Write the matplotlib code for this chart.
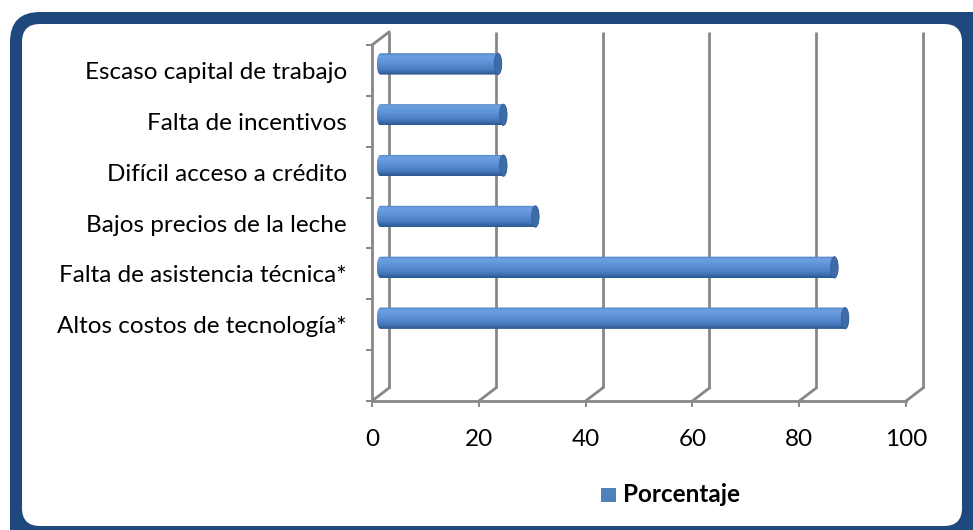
import numpy as np
import matplotlib
matplotlib.use('Agg')
import matplotlib.pyplot as plt
from matplotlib.patches import FancyBboxPatch, Rectangle, Ellipse, PathPatch
from matplotlib.path import Path
from matplotlib.colors import LinearSegmentedColormap

# ---------------- data ----------------
categories = ["Escaso capital de trabajo", "Falta de incentivos", "Difícil acceso a crédito",
              "Bajos precios de la leche", "Falta de asistencia técnica*",
              "Altos costos de tecnología*"]
values = [22, 23, 23, 29, 85, 87]
xticks = [0, 20, 40, 60, 80, 100]
series_name = "Porcentaje"

plt.rcParams['font.family'] = ['Lato', 'DejaVu Sans']

W, H = 973, 530
fig = plt.figure(figsize=(W / 100, H / 100), dpi=100)

# background frame (pixel coordinates)
bg = fig.add_axes([0, 0, 1, 1])
bg.set_xlim(0, W)
bg.set_ylim(H, 0)
bg.axis('off')
bg.add_patch(FancyBboxPatch((10, 12), 1000, 560, boxstyle="round,pad=0,rounding_size=30",
                            fc='#1f497d', ec='none'))
bg.add_patch(FancyBboxPatch((22, 24), 940, 502, boxstyle="round,pad=0,rounding_size=18",
                            fc='white', ec='none'))

# main (front plane) axes
x0_px, x100_px = 372, 906
ytop_px, ybot_px = 45, 401
ax = fig.add_axes([x0_px / W, 1 - ybot_px / H, (x100_px - x0_px) / W, (ybot_px - ytop_px) / H])
ax.patch.set_visible(False)
n = len(categories)
ypos = np.arange(n, 0, -1)  # top category highest, one empty slot at bottom
ymin, ymax = -0.5, n + 0.5
xmin, xmax = xticks[0], xticks[-1]

# depth offsets (pixels -> data units)
ppx = (x100_px - x0_px) / (xmax - xmin)
ppy = (ybot_px - ytop_px) / (ymax - ymin)
dx_back, dy_back = 17 / ppx, 13 / ppy
dx_mid, dy_mid = 8.5 / ppx, 6.5 / ppy

gc = '#878787'
glw = 2.0
# back wall gridlines
for v in xticks:
    ax.plot([v + dx_back, v + dx_back], [ymin + dy_back, ymax + dy_back], color=gc, lw=glw,
            clip_on=False, zorder=1, solid_capstyle='butt')
    # floor diagonals
    ax.plot([v, v + dx_back], [ymin, ymin + dy_back], color=gc, lw=glw, clip_on=False, zorder=1)
# left wall top diagonal
ax.plot([xmin, xmin + dx_back], [ymax, ymax + dy_back], color=gc, lw=glw, clip_on=False, zorder=1)

# cylinders
grad_cmap = LinearSegmentedColormap.from_list('cyl', [
    (0.0, '#4a7bbd'), (0.12, '#6fa1e2'), (0.4, '#5f94d9'),
    (0.75, '#4a7dc0'), (1.0, '#2c5890')])
grad = grad_cmap(np.linspace(0, 1, 64))[:, None, :]
h = 0.42
a = 0.7
for yc, val in zip(ypos, values):
    c = yc + dy_mid
    L = xmin + dx_mid
    R = val + dx_mid
    t1 = np.linspace(np.pi / 2, 3 * np.pi / 2, 40)
    t2 = np.linspace(-np.pi / 2, np.pi / 2, 40)
    xs = np.concatenate([L + a * np.cos(t1), R + a * np.cos(t2)])
    ys = np.concatenate([c + h / 2 * np.sin(t1), c + h / 2 * np.sin(t2)])
    verts = np.column_stack([xs, ys])
    path = Path(np.vstack([verts, verts[:1]]), closed=True)
    patch = PathPatch(path, transform=ax.transData, fc='none', ec='none')
    ax.add_patch(patch)
    im = ax.imshow(grad, extent=(L - a, R + a, c - h / 2, c + h / 2), origin='upper',
                   aspect='auto', interpolation='bilinear', zorder=3)
    im.set_clip_path(patch)
    ax.add_patch(Ellipse((R, c), 2 * a, h, fc='#3e6ca8', ec='#345f96', lw=0.6, zorder=4))

ax.set_xlim(xmin, xmax)
ax.set_ylim(ymin, ymax)

# spines & ticks
for s in ['top', 'right']:
    ax.spines[s].set_visible(False)
for s in ['bottom', 'left']:
    ax.spines[s].set_color(gc)
    ax.spines[s].set_linewidth(glw)
ax.set_xticks(xticks)
ax.set_xticklabels([str(v) for v in xticks])
ax.tick_params(axis='x', which='major', direction='out', length=4.5, width=1.4, color=gc,
               labelsize=17.5, pad=16, labelcolor='black')
ax.set_yticks(np.arange(ymin, ymax + 0.01, 1.0))
ax.set_yticklabels([])
ax.tick_params(axis='y', which='major', direction='out', length=4.5, width=1.4, color=gc)
ax.set_yticks(ypos, minor=True)
ax.set_yticklabels(categories, minor=True)
ax.tick_params(axis='y', which='minor', length=0, labelsize=17.5, pad=18, labelcolor='black')

# legend
bg.add_patch(Rectangle((601, 488), 15, 14, fc='#4f81bd', ec='none'))
bg.text(623, 495, series_name, fontsize=17.5, fontweight='bold', va='center', ha='left')

fig.savefig('out.png', dpi=100)
